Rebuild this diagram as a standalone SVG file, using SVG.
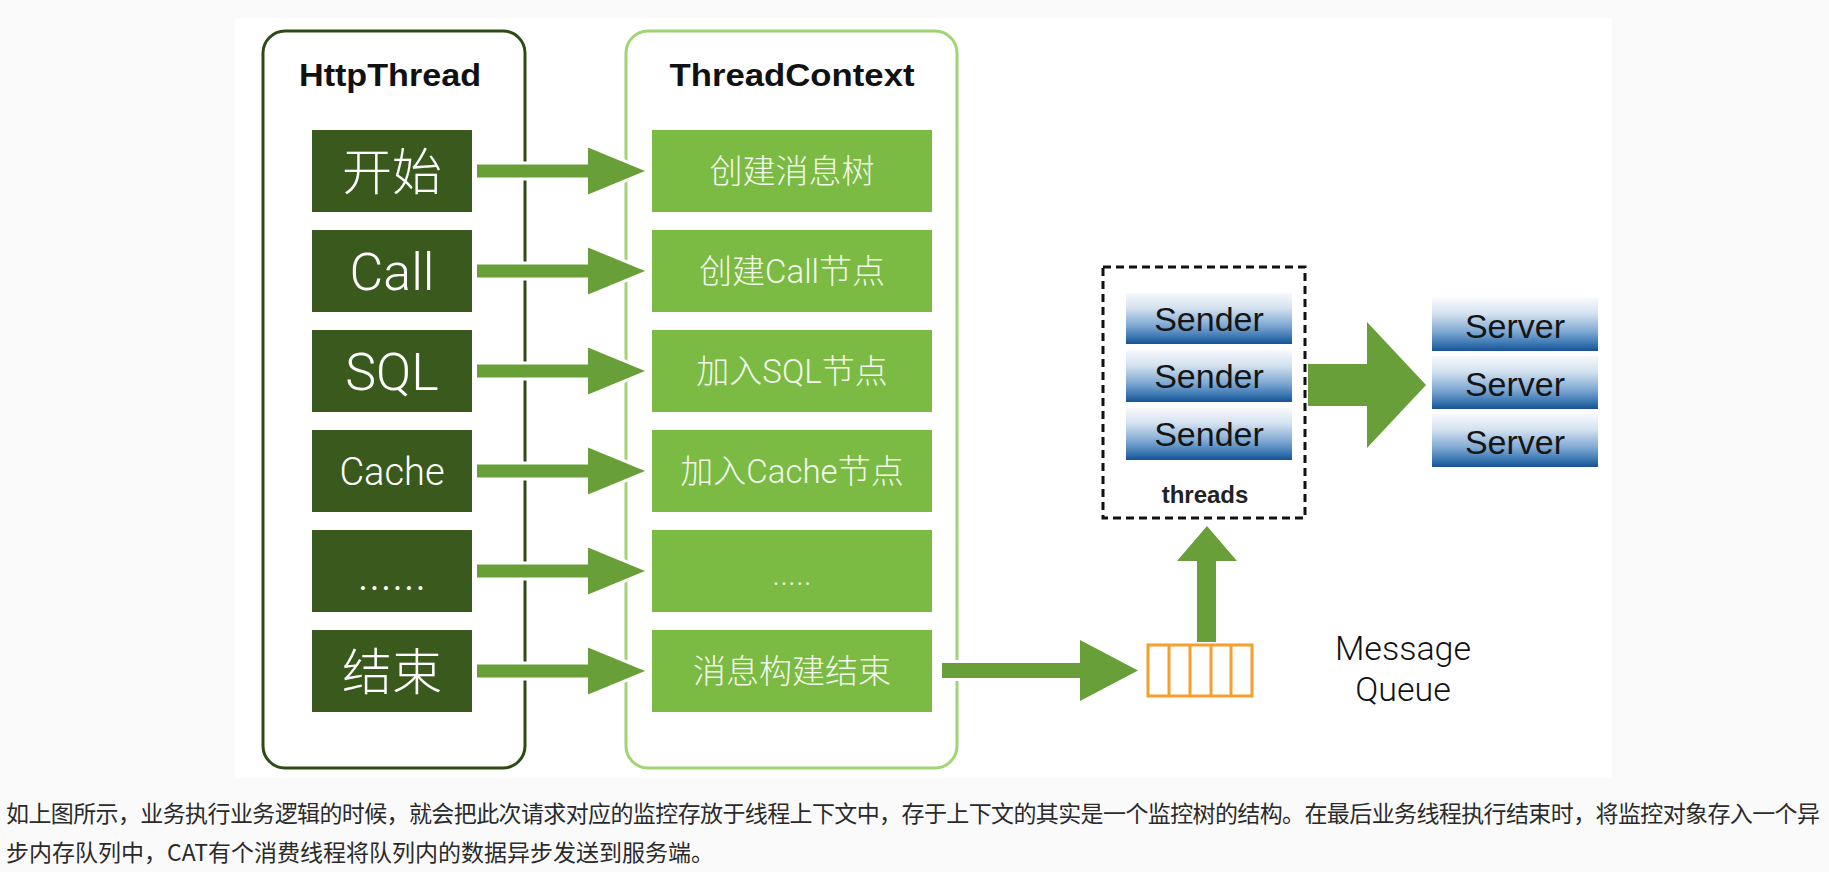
<svg xmlns="http://www.w3.org/2000/svg" width="1829" height="872" viewBox="0 0 1829 872">
<style>
.hdr{font-family:"Liberation Sans",Arial,sans-serif;font-weight:bold;font-size:32px;fill:#111;text-anchor:middle}
.dk{fill:#3a5a1d}
.lg{fill:#7bba43}
.dt{font-family:Roboto,"Noto Sans CJK SC",sans-serif;font-weight:300;fill:#fff;text-anchor:middle}
.lt{font-family:Roboto,"Noto Sans CJK SC",sans-serif;font-weight:300;font-size:33px;fill:#f3f9ec;text-anchor:middle}
.arr{fill:#689f38;stroke:#fff;stroke-width:6;paint-order:stroke;stroke-linejoin:miter}
.bt{font-family:"Liberation Sans",Arial,sans-serif;font-size:34px;fill:#151515;text-anchor:middle}
.para{font-family:"Noto Sans CJK SC","Microsoft YaHei",sans-serif;font-size:23px;fill:#2a2a2a}
</style>
<defs>
<linearGradient id="blue" x1="0" y1="0" x2="0" y2="1">
<stop offset="0" stop-color="#f7f9fc"/>
<stop offset="0.3" stop-color="#d3e1ef"/>
<stop offset="0.65" stop-color="#7ba6d2"/>
<stop offset="0.9" stop-color="#2f6eab"/>
<stop offset="1" stop-color="#1a5190"/>
</linearGradient>
</defs>
<rect x="0" y="0" width="1829" height="872" fill="#fafafa"/>
<rect x="235" y="18" width="1377" height="760" fill="#ffffff"/>

<g id="httpthread">
<rect x="263" y="31" width="262" height="737" rx="22" fill="#fff" stroke="#2e4a16" stroke-width="3"/>
<text class="hdr" x="390" y="86" textLength="182" lengthAdjust="spacingAndGlyphs">HttpThread</text>
</g>
<g id="threadcontext">
<rect x="626" y="31" width="331" height="737" rx="22" fill="#fff" stroke="#a0d474" stroke-width="3"/>
<text class="hdr" x="792" y="86" textLength="245" lengthAdjust="spacingAndGlyphs">ThreadContext</text>
</g>

<g id="connectors">
<polygon class="arr" points="477,164.5 588,164.5 588,147.5 645,171 588,194.5 588,177.5 477,177.5"/>
<polygon class="arr" points="477,264.5 588,264.5 588,247.5 645,271 588,294.5 588,277.5 477,277.5"/>
<polygon class="arr" points="477,364.5 588,364.5 588,347.5 645,371 588,394.5 588,377.5 477,377.5"/>
<polygon class="arr" points="477,464.5 588,464.5 588,447.5 645,471 588,494.5 588,477.5 477,477.5"/>
<polygon class="arr" points="477,564.5 588,564.5 588,547.5 645,571 588,594.5 588,577.5 477,577.5"/>
<polygon class="arr" points="477,664.5 588,664.5 588,647.5 645,671 588,694.5 588,677.5 477,677.5"/>
<polygon class="arr" points="942,663 1080,663 1080,640 1138,670.5 1080,701 1080,678 942,678"/>
<polygon class="arr" points="1197,642 1197,561 1177,561 1207,526 1237,561 1216,561 1216,642"/>
<polygon class="arr" points="1308,364 1367,364 1367,322 1426,385 1367,448 1367,406 1308,406"/>
</g>

<g id="n-start"><rect class="dk" x="312" y="130" width="160" height="82"/><text class="dt" x="392" y="190" font-size="50">开始</text></g>
<g id="n-call"><rect class="dk" x="312" y="230" width="160" height="82"/><text class="dt" x="392" y="290" font-size="52">Call</text></g>
<g id="n-sql"><rect class="dk" x="312" y="330" width="160" height="82"/><text class="dt" x="392" y="390" font-size="52">SQL</text></g>
<g id="n-cache"><rect class="dk" x="312" y="430" width="160" height="82"/><text class="dt" x="392" y="485" font-size="38">Cache</text></g>
<g id="n-dots"><rect class="dk" x="312" y="530" width="160" height="82"/><text class="dt" x="392" y="590" font-size="48">......</text></g>
<g id="n-end"><rect class="dk" x="312" y="630" width="160" height="82"/><text class="dt" x="392" y="690" font-size="50">结束</text></g>

<g id="c-tree"><rect class="lg" x="652" y="130" width="280" height="82"/><text class="lt" x="792" y="183">创建消息树</text></g>
<g id="c-call"><rect class="lg" x="652" y="230" width="280" height="82"/><text class="lt" x="792" y="283">创建Call节点</text></g>
<g id="c-sql"><rect class="lg" x="652" y="330" width="280" height="82"/><text class="lt" x="792" y="383">加入SQL节点</text></g>
<g id="c-cache"><rect class="lg" x="652" y="430" width="280" height="82"/><text class="lt" x="792" y="483">加入Cache节点</text></g>
<g id="c-dots"><rect class="lg" x="652" y="530" width="280" height="82"/><text class="lt" x="792" y="585" font-size="30">.....</text></g>
<g id="c-end"><rect class="lg" x="652" y="630" width="280" height="82"/><text class="lt" x="792" y="683">消息构建结束</text></g>

<g id="queue">
<rect x="1148" y="645" width="104" height="51" fill="#fff" stroke="#f59f2c" stroke-width="3"/>
<path d="M1169 645V696M1190 645V696M1211 645V696M1231 645V696" stroke="#f59f2c" stroke-width="3" fill="none"/>
</g>
<g id="queue-label">
<text x="1403" y="660" font-family="Roboto,'Liberation Sans',sans-serif" font-weight="300" font-size="34" fill="#111" text-anchor="middle">Message</text>
<text x="1403" y="701" font-family="Roboto,'Liberation Sans',sans-serif" font-weight="300" font-size="34" fill="#111" text-anchor="middle">Queue</text>
</g>

<g id="threads">
<rect x="1103" y="267" width="202" height="251" fill="none" stroke="#111" stroke-width="3" stroke-dasharray="8 5"/>
<text x="1205" y="503" font-family="'Liberation Sans',Arial,sans-serif" font-weight="bold" font-size="24" fill="#222" text-anchor="middle">threads</text>
</g>
<g id="sender1"><rect x="1126" y="293" width="166" height="51" fill="url(#blue)"/><text class="bt" x="1209" y="331">Sender</text></g>
<g id="sender2"><rect x="1126" y="350" width="166" height="52" fill="url(#blue)"/><text class="bt" x="1209" y="388">Sender</text></g>
<g id="sender3"><rect x="1126" y="408" width="166" height="52" fill="url(#blue)"/><text class="bt" x="1209" y="446">Sender</text></g>

<g id="server1"><rect x="1432" y="298" width="166" height="53" fill="url(#blue)"/><text class="bt" x="1515" y="338">Server</text></g>
<g id="server2"><rect x="1432" y="356" width="166" height="53" fill="url(#blue)"/><text class="bt" x="1515" y="396">Server</text></g>
<g id="server3"><rect x="1432" y="414" width="166" height="53" fill="url(#blue)"/><text class="bt" x="1515" y="454">Server</text></g>

<g id="caption">
<text class="para" x="6" y="822" textLength="1814" lengthAdjust="spacing">如上图所示，业务执行业务逻辑的时候，就会把此次请求对应的监控存放于线程上下文中，存于上下文的其实是一个监控树的结构。在最后业务线程执行结束时，将监控对象存入一个异</text>
<text class="para" x="6" y="861">步内存队列中，CAT有个消费线程将队列内的数据异步发送到服务端。</text>
</g>
</svg>
